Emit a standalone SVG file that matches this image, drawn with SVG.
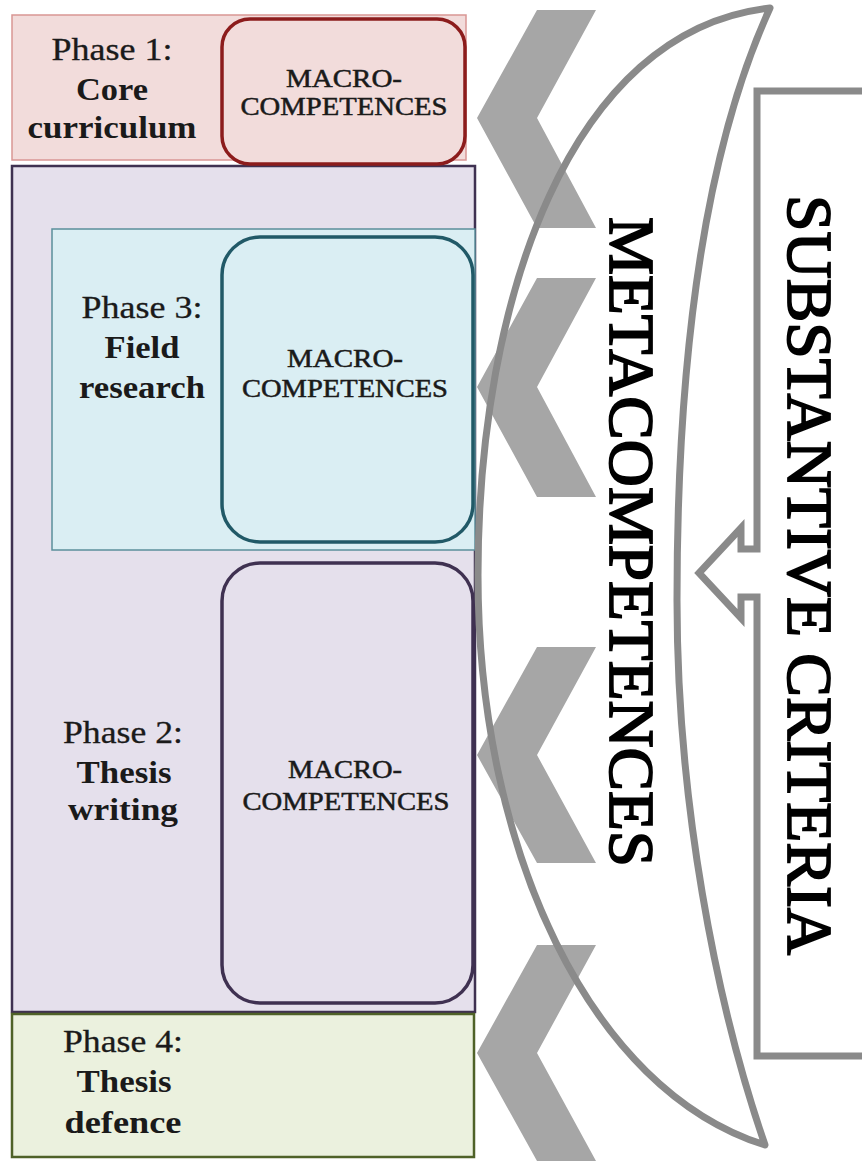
<svg xmlns="http://www.w3.org/2000/svg" width="862" height="1166" viewBox="0 0 862 1166">
<defs>
<style>
.lbl{font-family:"Liberation Serif","Times New Roman",serif;font-size:31px;fill:#1a1a1a;text-anchor:middle;stroke:#1a1a1a;stroke-width:0.3}
.b{font-weight:bold;stroke-width:0}
.mac{font-family:"Liberation Serif","Times New Roman",serif;font-size:25px;fill:#1a1a1a;text-anchor:middle;stroke:#1a1a1a;stroke-width:0.5}
.big{font-family:"Liberation Serif","Times New Roman",serif;font-size:64px;fill:#000;stroke:#000;stroke-width:1.8}
.chev{fill:#a6a6a6}
.gline{fill:none;stroke:#8a8a8a;stroke-width:7}
</style>
</defs>
<rect width="862" height="1166" fill="#ffffff"/>

<g id="phase2">
<rect x="12" y="166" width="463" height="846" fill="#e5e0ec" stroke="#3f3151" stroke-width="2.5"/>
<text class="lbl" x="123" y="743" textLength="120" lengthAdjust="spacingAndGlyphs">Phase 2:</text>
<text class="lbl b" x="124" y="783" textLength="95" lengthAdjust="spacingAndGlyphs">Thesis</text>
<text class="lbl b" x="123" y="820" textLength="110" lengthAdjust="spacingAndGlyphs">writing</text>
</g>

<g id="phase3">
<rect x="52" y="229" width="423" height="321" fill="#daeef3" stroke="#5b8f9b" stroke-width="1.5"/>
<text class="lbl" x="142" y="318" textLength="121" lengthAdjust="spacingAndGlyphs">Phase 3:</text>
<text class="lbl b" x="142" y="358" textLength="75" lengthAdjust="spacingAndGlyphs">Field</text>
<text class="lbl b" x="142" y="398" textLength="126" lengthAdjust="spacingAndGlyphs">research</text>
</g>

<g id="macro3">
<rect x="222" y="237" width="251" height="305" rx="38" fill="#daeef3" stroke="#215967" stroke-width="3.5"/>
<text class="mac" x="345" y="367" textLength="116" lengthAdjust="spacingAndGlyphs">MACRO-</text>
<text class="mac" x="345" y="397" textLength="206" lengthAdjust="spacingAndGlyphs">COMPETENCES</text>
</g>

<g id="macro2">
<rect x="222" y="563" width="251" height="440" rx="38" fill="#e5e0ec" stroke="#3f3151" stroke-width="3.5"/>
<text class="mac" x="345" y="778" textLength="114" lengthAdjust="spacingAndGlyphs">MACRO-</text>
<text class="mac" x="346" y="810" textLength="207" lengthAdjust="spacingAndGlyphs">COMPETENCES</text>
</g>

<g id="phase1">
<rect x="12" y="15" width="454" height="145" fill="#f2dcdb" stroke="#d99694" stroke-width="1.5"/>
<text class="lbl" x="112" y="60" textLength="121" lengthAdjust="spacingAndGlyphs">Phase 1:</text>
<text class="lbl b" x="112" y="100" textLength="72" lengthAdjust="spacingAndGlyphs">Core</text>
<text class="lbl b" x="112" y="138" textLength="169" lengthAdjust="spacingAndGlyphs">curriculum</text>
</g>

<g id="macro1">
<rect x="222" y="19" width="243" height="145" rx="28" fill="#f2dcdb" stroke="#8c1c1c" stroke-width="3.5"/>
<text class="mac" x="344" y="87" textLength="116" lengthAdjust="spacingAndGlyphs">MACRO-</text>
<text class="mac" x="344" y="115" textLength="207" lengthAdjust="spacingAndGlyphs">COMPETENCES</text>
</g>

<g id="phase4">
<rect x="12" y="1014" width="462" height="143" fill="#ebf1de" stroke="#4f6228" stroke-width="2.5"/>
<text class="lbl" x="123" y="1052" textLength="120" lengthAdjust="spacingAndGlyphs">Phase 4:</text>
<text class="lbl b" x="124" y="1092" textLength="95" lengthAdjust="spacingAndGlyphs">Thesis</text>
<text class="lbl b" x="123" y="1133" textLength="117" lengthAdjust="spacingAndGlyphs">defence</text>
</g>

<g id="chevrons">
<polygon class="chev" points="537,10 596,10 537,118 596,228 537,228 477,118"/>
<polygon class="chev" points="537,278 596,278 537,387 596,497 537,497 477,387"/>
<polygon class="chev" points="537,647 596,647 537,755 596,863 537,863 477,755"/>
<polygon class="chev" points="537,945 596,945 537,1053 596,1161 537,1161 477,1053"/>
</g>

<g id="metacompetences">
<path class="gline" d="M770,8 C570,30 478,300 478,575 C478,850 590,1090 765,1145 C715,1000 677,800 677,600 C677,350 705,150 770,8 Z" stroke-linejoin="round"/>
<text class="big" transform="translate(610,217) rotate(90)" textLength="650" lengthAdjust="spacingAndGlyphs">METACOMPETENCES</text>
</g>

<g id="substantive-criteria">
<path class="gline" d="M870,91 H757 V549 H741 V528 L699,573 L741,618 V597 H757 V1056 H870" stroke-width="8" stroke-linejoin="miter"/>
<text class="big" transform="translate(788,195) rotate(90)" textLength="760" lengthAdjust="spacingAndGlyphs">SUBSTANTIVE CRITERIA</text>
</g>
</svg>
